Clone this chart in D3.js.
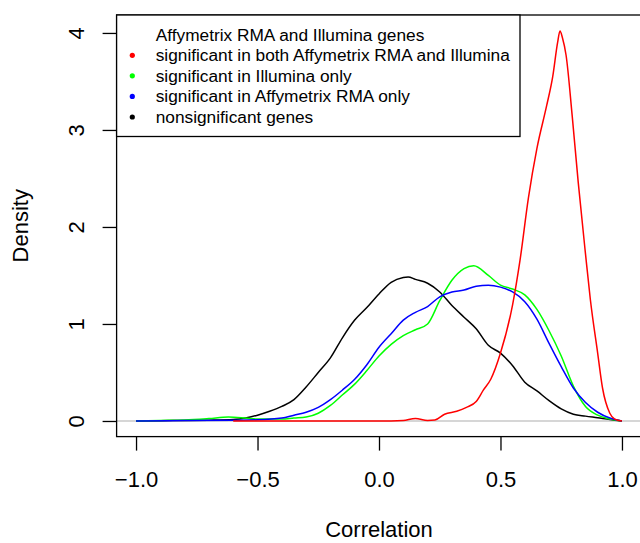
<!DOCTYPE html>
<html>
<head>
<meta charset="utf-8">
<script src="https://cdn.jsdelivr.net/npm/d3@7"></script>
<style>
  body { margin: 0; background: #fff; }
  text { font-family: "Liberation Sans", Arial, Helvetica, sans-serif; fill: #000; }
</style>
</head>
<body>
<div id="chart"></div>
<script>
// density curves, x = correlation, d = density
const blackX = [-1.0, -0.9, -0.8, -0.7, -0.6, -0.55, -0.5, -0.45, -0.4, -0.35, -0.3, -0.25, -0.2, -0.15, -0.1, -0.05, 0.0, 0.05, 0.1, 0.12, 0.15, 0.2, 0.25, 0.3, 0.35, 0.4, 0.45, 0.5, 0.55, 0.6, 0.65, 0.7, 0.75, 0.8, 0.85, 0.9, 0.95, 1.0];
const blackD = [0, 0.003, 0.005, 0.008, 0.015, 0.03, 0.06, 0.1, 0.15, 0.22, 0.35, 0.5, 0.65, 0.86, 1.04, 1.17, 1.31, 1.43, 1.48, 1.485, 1.46, 1.42, 1.33, 1.19, 1.07, 0.95, 0.78, 0.7, 0.57, 0.4, 0.31, 0.21, 0.125, 0.07, 0.05, 0.033, 0.015, 0];

const greenX = [-1.0, -0.9, -0.8, -0.7, -0.62, -0.55, -0.5, -0.4, -0.35, -0.3, -0.25, -0.2, -0.15, -0.1, -0.05, 0.0, 0.05, 0.1, 0.15, 0.2, 0.25, 0.3, 0.35, 0.39, 0.45, 0.5, 0.55, 0.6, 0.65, 0.7, 0.75, 0.8, 0.85, 0.9, 0.95, 1.0];
const greenD = [0, 0.005, 0.01, 0.025, 0.04, 0.03, 0.02, 0.02, 0.03, 0.04, 0.08, 0.16, 0.27, 0.38, 0.52, 0.67, 0.79, 0.88, 0.94, 1.0, 1.24, 1.45, 1.57, 1.6, 1.5, 1.4, 1.36, 1.3, 1.15, 0.93, 0.67, 0.36, 0.15, 0.06, 0.02, 0];

const blueX = [-1.0, -0.8, -0.6, -0.5, -0.4, -0.35, -0.3, -0.25, -0.2, -0.15, -0.1, -0.05, 0.0, 0.05, 0.1, 0.15, 0.2, 0.25, 0.3, 0.35, 0.4, 0.45, 0.5, 0.55, 0.6, 0.65, 0.7, 0.75, 0.8, 0.85, 0.9, 0.95, 1.0];
const blueD = [0, 0.005, 0.008, 0.012, 0.03, 0.06, 0.09, 0.14, 0.22, 0.32, 0.43, 0.58, 0.76, 0.9, 1.04, 1.12, 1.18, 1.28, 1.33, 1.35, 1.39, 1.4, 1.38, 1.33, 1.23, 1.05, 0.8, 0.56, 0.34, 0.19, 0.09, 0.03, 0];

const redX = [-0.6, 0.05, 0.1, 0.15, 0.2, 0.23, 0.27, 0.32, 0.36, 0.4, 0.43, 0.46, 0.5, 0.55, 0.58, 0.615, 0.65, 0.69, 0.715, 0.735, 0.745, 0.755, 0.77, 0.795, 0.82, 0.85, 0.87, 0.9, 0.92, 0.95, 0.97, 1.0];
const redD = [0, 0, 0.005, 0.025, 0.005, 0.01, 0.07, 0.1, 0.14, 0.2, 0.32, 0.43, 0.7, 1.2, 1.65, 2.3, 2.81, 3.25, 3.55, 3.9, 4.02, 3.95, 3.77, 3.15, 2.46, 1.72, 1.25, 0.7, 0.34, 0.08, 0.02, 0];

const legendLabels = ["Affymetrix RMA and Illumina genes",
  "significant in both Affymetrix RMA and Illumina",
  "significant in Illumina only",
  "significant in Affymetrix RMA only",
  "nonsignificant genes"];
const legendColors = [null, "#ff0000", "#00ff00", "#0000ff", "#000000"];

const xTicks = [-1, -0.5, 0, 0.5, 1];
const xTickLabels = ["\u22121.0", "\u22120.5", "0.0", "0.5", "1.0"];
const yTicks = [0, 1, 2, 3, 4];
const yTickLabels = ["0", "1", "2", "3", "4"];

const width = 640, height = 543;
const plot = {left: 116.6, right: 641.4, top: 15, bottom: 436.6};

const svg = d3.select("#chart")
    .append("svg")
    .attr("width", width)
    .attr("height", height);

const x = d3.scaleLinear().domain([-1.08, 1.08]).range([plot.left, plot.right]);
const y = d3.scaleLinear().domain([-0.161, 4.185]).range([plot.bottom, plot.top]);

// zero line
svg.append("line")
    .attr("x1", plot.left).attr("x2", plot.right)
    .attr("y1", y(0)).attr("y2", y(0))
    .attr("stroke", "#c8c8c8")
    .attr("stroke-width", 1.3);

const series = [
    {xs: blackX, ds: blackD, color: "#000000"},
    {xs: greenX, ds: greenD, color: "#00ff00"},
    {xs: blueX, ds: blueD, color: "#0000ff"},
    {xs: redX, ds: redD, color: "#ff0000"}
];

const line = d3.line()
    .x(p => x(p[0]))
    .y(p => y(p[1]))
    .curve(d3.curveMonotoneX);

svg.append("g")
    .selectAll("path")
    .data(series)
    .join("path")
    .attr("d", s => line(s.xs.map((v, i) => [v, s.ds[i]])))
    .attr("fill", "none")
    .attr("stroke", s => s.color)
    .attr("stroke-width", 1.5);

// box
svg.append("rect")
    .attr("x", plot.left).attr("y", plot.top)
    .attr("width", plot.right - plot.left + 5)
    .attr("height", plot.bottom - plot.top)
    .attr("fill", "none")
    .attr("stroke", "#000")
    .attr("stroke-width", 1.3);

// x axis
const xAxis = svg.append("g")
    .attr("transform", "translate(0," + plot.bottom + ")")
    .call(d3.axisBottom(x).tickValues(xTicks).tickSize(14).tickSizeOuter(0)
        .tickFormat((d, i) => xTickLabels[i]));
xAxis.select(".domain").remove();
xAxis.selectAll(".tick line").attr("stroke", "#000").attr("stroke-width", 1.3);
xAxis.selectAll(".tick text")
    .attr("y", 50).attr("dy", null)
    .style("font-size", "22px");

// y axis
const yAxis = svg.append("g")
    .attr("transform", "translate(" + plot.left + ",0)")
    .call(d3.axisLeft(y).tickValues(yTicks).tickSize(14).tickSizeOuter(0)
        .tickFormat((d, i) => yTickLabels[i]));
yAxis.select(".domain").remove();
yAxis.selectAll(".tick line").attr("stroke", "#000").attr("stroke-width", 1.3);
yAxis.selectAll(".tick text")
    .attr("x", null).attr("dy", null)
    .attr("text-anchor", "middle")
    .attr("transform", "translate(-32.6,0) rotate(-90)")
    .style("font-size", "22px");

svg.append("text")
    .attr("x", x(0)).attr("y", 537)
    .attr("text-anchor", "middle")
    .style("font-size", "22px")
    .text("Correlation");

svg.append("text")
    .attr("transform", "translate(28," + ((plot.top + plot.bottom) / 2) + ") rotate(-90)")
    .attr("text-anchor", "middle")
    .style("font-size", "22px")
    .text("Density");

// legend
const legend = svg.append("g");
legend.append("rect")
    .attr("x", plot.left).attr("y", plot.top)
    .attr("width", 520 - plot.left).attr("height", 136.5 - plot.top)
    .attr("fill", "#fff")
    .attr("stroke", "#000")
    .attr("stroke-width", 1.3);

const rowY = d3.scaleLinear().domain([0, 4]).range([34.7, 117]);

const rows = legend.selectAll("g.row")
    .data(legendLabels)
    .join("g")
    .attr("class", "row")
    .attr("transform", (d, i) => "translate(0," + rowY(i) + ")");

rows.filter((d, i) => legendColors[i] !== null)
    .append("circle")
    .attr("cx", 132.3).attr("cy", 0).attr("r", 2.6)
    .attr("fill", d => legendColors[legendLabels.indexOf(d)]);

rows.append("text")
    .attr("x", 155.7).attr("y", 6)
    .style("font-size", "17.3px")
    .text(d => d);
</script>
</body>
</html>
